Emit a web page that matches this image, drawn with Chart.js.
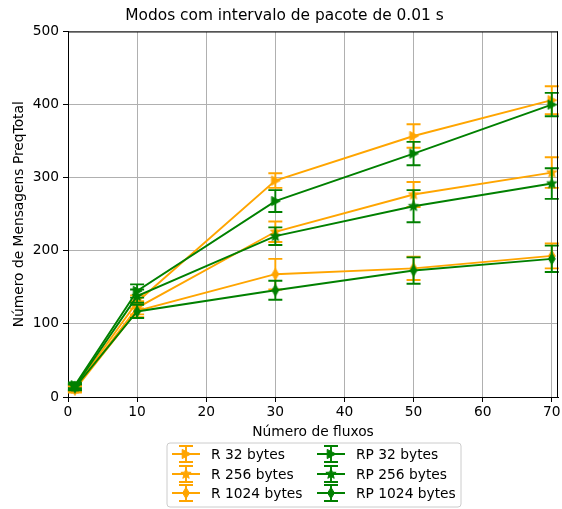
<!DOCTYPE html>
<html>
<head>
<meta charset="utf-8">
<script src="https://cdn.jsdelivr.net/npm/chart.js@4/dist/chart.umd.min.js"></script>
<style>
  html, body { margin: 0; padding: 0; background: #ffffff; }
  #wrap { width: 562px; height: 509px; }
</style>
</head>
<body>
<div id="wrap"><canvas id="c" width="562" height="509"></canvas></div>
<script>
// Número de fluxos (x positions)
const fluxos = [1, 10, 30, 50, 70];

// Mean message counts per mode
const r32     = [12, 130, 296, 357, 406];
const r256    = [11, 122, 226, 277, 307];
const r1024   = [10, 118, 168, 176, 193];
const rp32    = [16, 145, 268, 333, 400];
const rp256   = [14, 138, 220, 261, 292];
const rp1024  = [13, 117, 146, 173, 189];

// Error (± half-width) per point
const r32Err    = [4, 9, 10, 16, 19];
const r256Err   = [4, 9, 14, 17, 21];
const r1024Err  = [4, 9, 21, 16, 17];
const rp32Err   = [4, 9, 15, 16, 16];
const rp256Err  = [4, 9, 12, 22, 21];
const rp1024Err = [4, 9, 13, 18, 18];

const seriesNames = ['R 32 bytes', 'R 256 bytes', 'R 1024 bytes', 'RP 32 bytes', 'RP 256 bytes', 'RP 1024 bytes'];
const yTicks = [0, 100, 200, 300, 400, 500];
const xTicks = [0, 10, 20, 30, 40, 50, 60, 70];

const ORANGE = '#ffa500';
const GREEN = '#008000';
const FONT = "'DejaVu Sans', sans-serif";
const LABEL_SIZE = 13.8;
const PLOT_RIGHT = 558;

// Marker sprites: right triangle, five-point star, thin diamond
function makeMarker(kind, color) {
  const s = 16, c = document.createElement('canvas');
  c.width = s; c.height = s;
  const g = c.getContext('2d');
  const cx = s / 2, cy = s / 2;
  g.fillStyle = color; g.strokeStyle = color; g.lineWidth = 1;
  g.beginPath();
  if (kind === 'tri') {
    g.moveTo(cx + 4.9, cy);
    g.lineTo(cx - 3.8, cy - 4.6);
    g.lineTo(cx - 3.8, cy + 4.6);
  } else if (kind === 'star') {
    const R = 5.4, r = 2.3;
    for (let k = 0; k < 10; k++) {
      const a = -Math.PI / 2 + k * Math.PI / 5;
      const rad = k % 2 === 0 ? R : r;
      const px = cx + rad * Math.cos(a), py = cy + rad * Math.sin(a);
      if (k === 0) g.moveTo(px, py); else g.lineTo(px, py);
    }
  } else {
    g.moveTo(cx, cy - 5.6);
    g.lineTo(cx + 3.4, cy);
    g.lineTo(cx, cy + 5.6);
    g.lineTo(cx - 3.4, cy);
  }
  g.closePath();
  g.fill();
  g.stroke();
  return c;
}

function series(label, values, errs, color, kind, order) {
  return {
    label: label,
    data: fluxos.map((x, i) => ({ x: x, y: values[i] })),
    errors: errs,
    borderColor: color,
    backgroundColor: color,
    borderWidth: 1.9,
    pointStyle: makeMarker(kind, color),
    pointRadius: 4,
    pointHoverRadius: 4,
    tension: 0,
    clip: false,
    order: order
  };
}

const datasets = [
  series(seriesNames[0], r32,    r32Err,    ORANGE, 'tri',  1),
  series(seriesNames[1], r256,   r256Err,   ORANGE, 'star', 1),
  series(seriesNames[2], r1024,  r1024Err,  ORANGE, 'diam', 1),
  series(seriesNames[3], rp32,   rp32Err,   GREEN,  'tri',  0),
  series(seriesNames[4], rp256,  rp256Err,  GREEN,  'star', 0),
  series(seriesNames[5], rp1024, rp1024Err, GREEN,  'diam', 0)
];

// Let the plot area run to the right edge, over the last tick label's margin
const widenArea = {
  id: 'widenArea',
  afterLayout(chart) {
    const xs = chart.scales.x;
    chart.chartArea.right = PLOT_RIGHT;
    chart.chartArea.width = PLOT_RIGHT - chart.chartArea.left;
    xs.right = PLOT_RIGHT;
    xs.width = PLOT_RIGHT - xs.left;
    xs.configure();
  }
};

// Vertical error bars with caps, drawn just before each line
const errorBars = {
  id: 'errorBars',
  beforeDatasetDraw(chart, args) {
    const ds = chart.data.datasets[args.index];
    const ys = chart.scales.y;
    const ctx = chart.ctx;
    ctx.save();
    ctx.strokeStyle = ds.borderColor;
    ctx.lineWidth = 1.9;
    args.meta.data.forEach((pt, i) => {
      const v = ds.data[i].y, e = ds.errors[i];
      const t = ys.getPixelForValue(v + e), b = ys.getPixelForValue(v - e);
      ctx.beginPath();
      ctx.moveTo(pt.x, t); ctx.lineTo(pt.x, b);
      ctx.moveTo(pt.x - 7, t); ctx.lineTo(pt.x + 7, t);
      ctx.moveTo(pt.x - 7, b); ctx.lineTo(pt.x + 7, b);
      ctx.stroke();
    });
    ctx.restore();
  }
};

// Top and right frame lines plus the two-column legend box
const frameAndLegend = {
  id: 'frameAndLegend',
  afterDraw(chart) {
    const ctx = chart.ctx;
    const a = chart.chartArea;
    ctx.save();
    ctx.strokeStyle = '#000000';
    ctx.lineWidth = 1;
    ctx.beginPath();
    ctx.moveTo(a.left, a.top + 0.5); ctx.lineTo(a.right, a.top + 0.5);
    ctx.moveTo(a.right - 0.5, a.top); ctx.lineTo(a.right - 0.5, a.bottom);
    ctx.stroke();

    // legend frame
    const bx = 167, by = 443, bw = 294, bh = 64, rr = 3;
    ctx.beginPath();
    ctx.moveTo(bx + rr, by);
    ctx.arcTo(bx + bw, by, bx + bw, by + bh, rr);
    ctx.arcTo(bx + bw, by + bh, bx, by + bh, rr);
    ctx.arcTo(bx, by + bh, bx, by, rr);
    ctx.arcTo(bx, by, bx + bw, by, rr);
    ctx.closePath();
    ctx.fillStyle = 'rgba(255,255,255,0.8)';
    ctx.fill();
    ctx.strokeStyle = '#cccccc';
    ctx.lineWidth = 1;
    ctx.stroke();

    const cols = [172, 317];
    const rows = [454, 474, 493];
    ctx.font = LABEL_SIZE + 'px ' + FONT;
    ctx.textBaseline = 'middle';
    ctx.textAlign = 'left';
    chart.data.datasets.forEach((ds, i) => {
      const col = Math.floor(i / 3), row = i % 3;
      const x0 = cols[col], y0 = rows[row];
      const mid = x0 + 14;
      ctx.strokeStyle = ds.borderColor;
      ctx.lineWidth = 1.9;
      ctx.beginPath();
      ctx.moveTo(x0, y0); ctx.lineTo(x0 + 28, y0);
      ctx.moveTo(mid, y0 - 8); ctx.lineTo(mid, y0 + 8);
      ctx.moveTo(mid - 7, y0 - 8); ctx.lineTo(mid + 7, y0 - 8);
      ctx.moveTo(mid - 7, y0 + 8); ctx.lineTo(mid + 7, y0 + 8);
      ctx.stroke();
      const img = ds.pointStyle;
      ctx.drawImage(img, mid - img.width / 2, y0 - img.height / 2);
      ctx.fillStyle = '#000000';
      ctx.fillText(ds.label, x0 + 39, y0 + 1);
    });
    ctx.restore();
  }
};

new Chart(document.getElementById('c'), {
  type: 'line',
  data: { datasets: datasets },
  plugins: [widenArea, errorBars, frameAndLegend],
  options: {
    responsive: false,
    devicePixelRatio: 1,
    animation: false,
    layout: { padding: { left: 8, right: 1, top: 0, bottom: 0 } },
    plugins: {
      legend: { display: false },
      tooltip: { enabled: false },
      title: {
        display: true,
        text: 'Modos com intervalo de pacote de 0.01 s',
        color: '#000000',
        font: { family: FONT, size: 15.4, weight: 'normal' },
        padding: { top: 7, bottom: 6 }
      }
    },
    scales: {
      x: {
        type: 'linear',
        min: 0,
        max: 70.9,
        afterBuildTicks(scale) { scale.ticks = xTicks.map(v => ({ value: v })); },
        afterFit(scale) { scale.height = 112; },
        ticks: {
          color: '#000000',
          font: { family: FONT, size: LABEL_SIZE },
          padding: 2,
          maxRotation: 0,
          includeBounds: false
        },
        grid: { color: '#b0b0b0', lineWidth: 1, tickColor: '#000000', tickLength: 5 },
        border: { color: '#000000', width: 1 },
        title: {
          display: true,
          text: 'Número de fluxos',
          color: '#000000',
          font: { family: FONT, size: LABEL_SIZE },
          padding: { top: 2, bottom: 68 }
        }
      },
      y: {
        type: 'linear',
        min: 0,
        max: 500,
        afterBuildTicks(scale) { scale.ticks = yTicks.map(v => ({ value: v })); },
        afterFit(scale) { scale.width = 60; },
        ticks: {
          color: '#000000',
          font: { family: FONT, size: LABEL_SIZE },
          padding: 4
        },
        grid: { color: '#b0b0b0', lineWidth: 1, tickColor: '#000000', tickLength: 5 },
        border: { color: '#000000', width: 1 },
        title: {
          display: true,
          text: 'Número de Mensagens PreqTotal',
          color: '#000000',
          font: { family: FONT, size: LABEL_SIZE },
          padding: { top: 3, bottom: 3 }
        }
      }
    }
  }
});
</script>
</body>
</html>
